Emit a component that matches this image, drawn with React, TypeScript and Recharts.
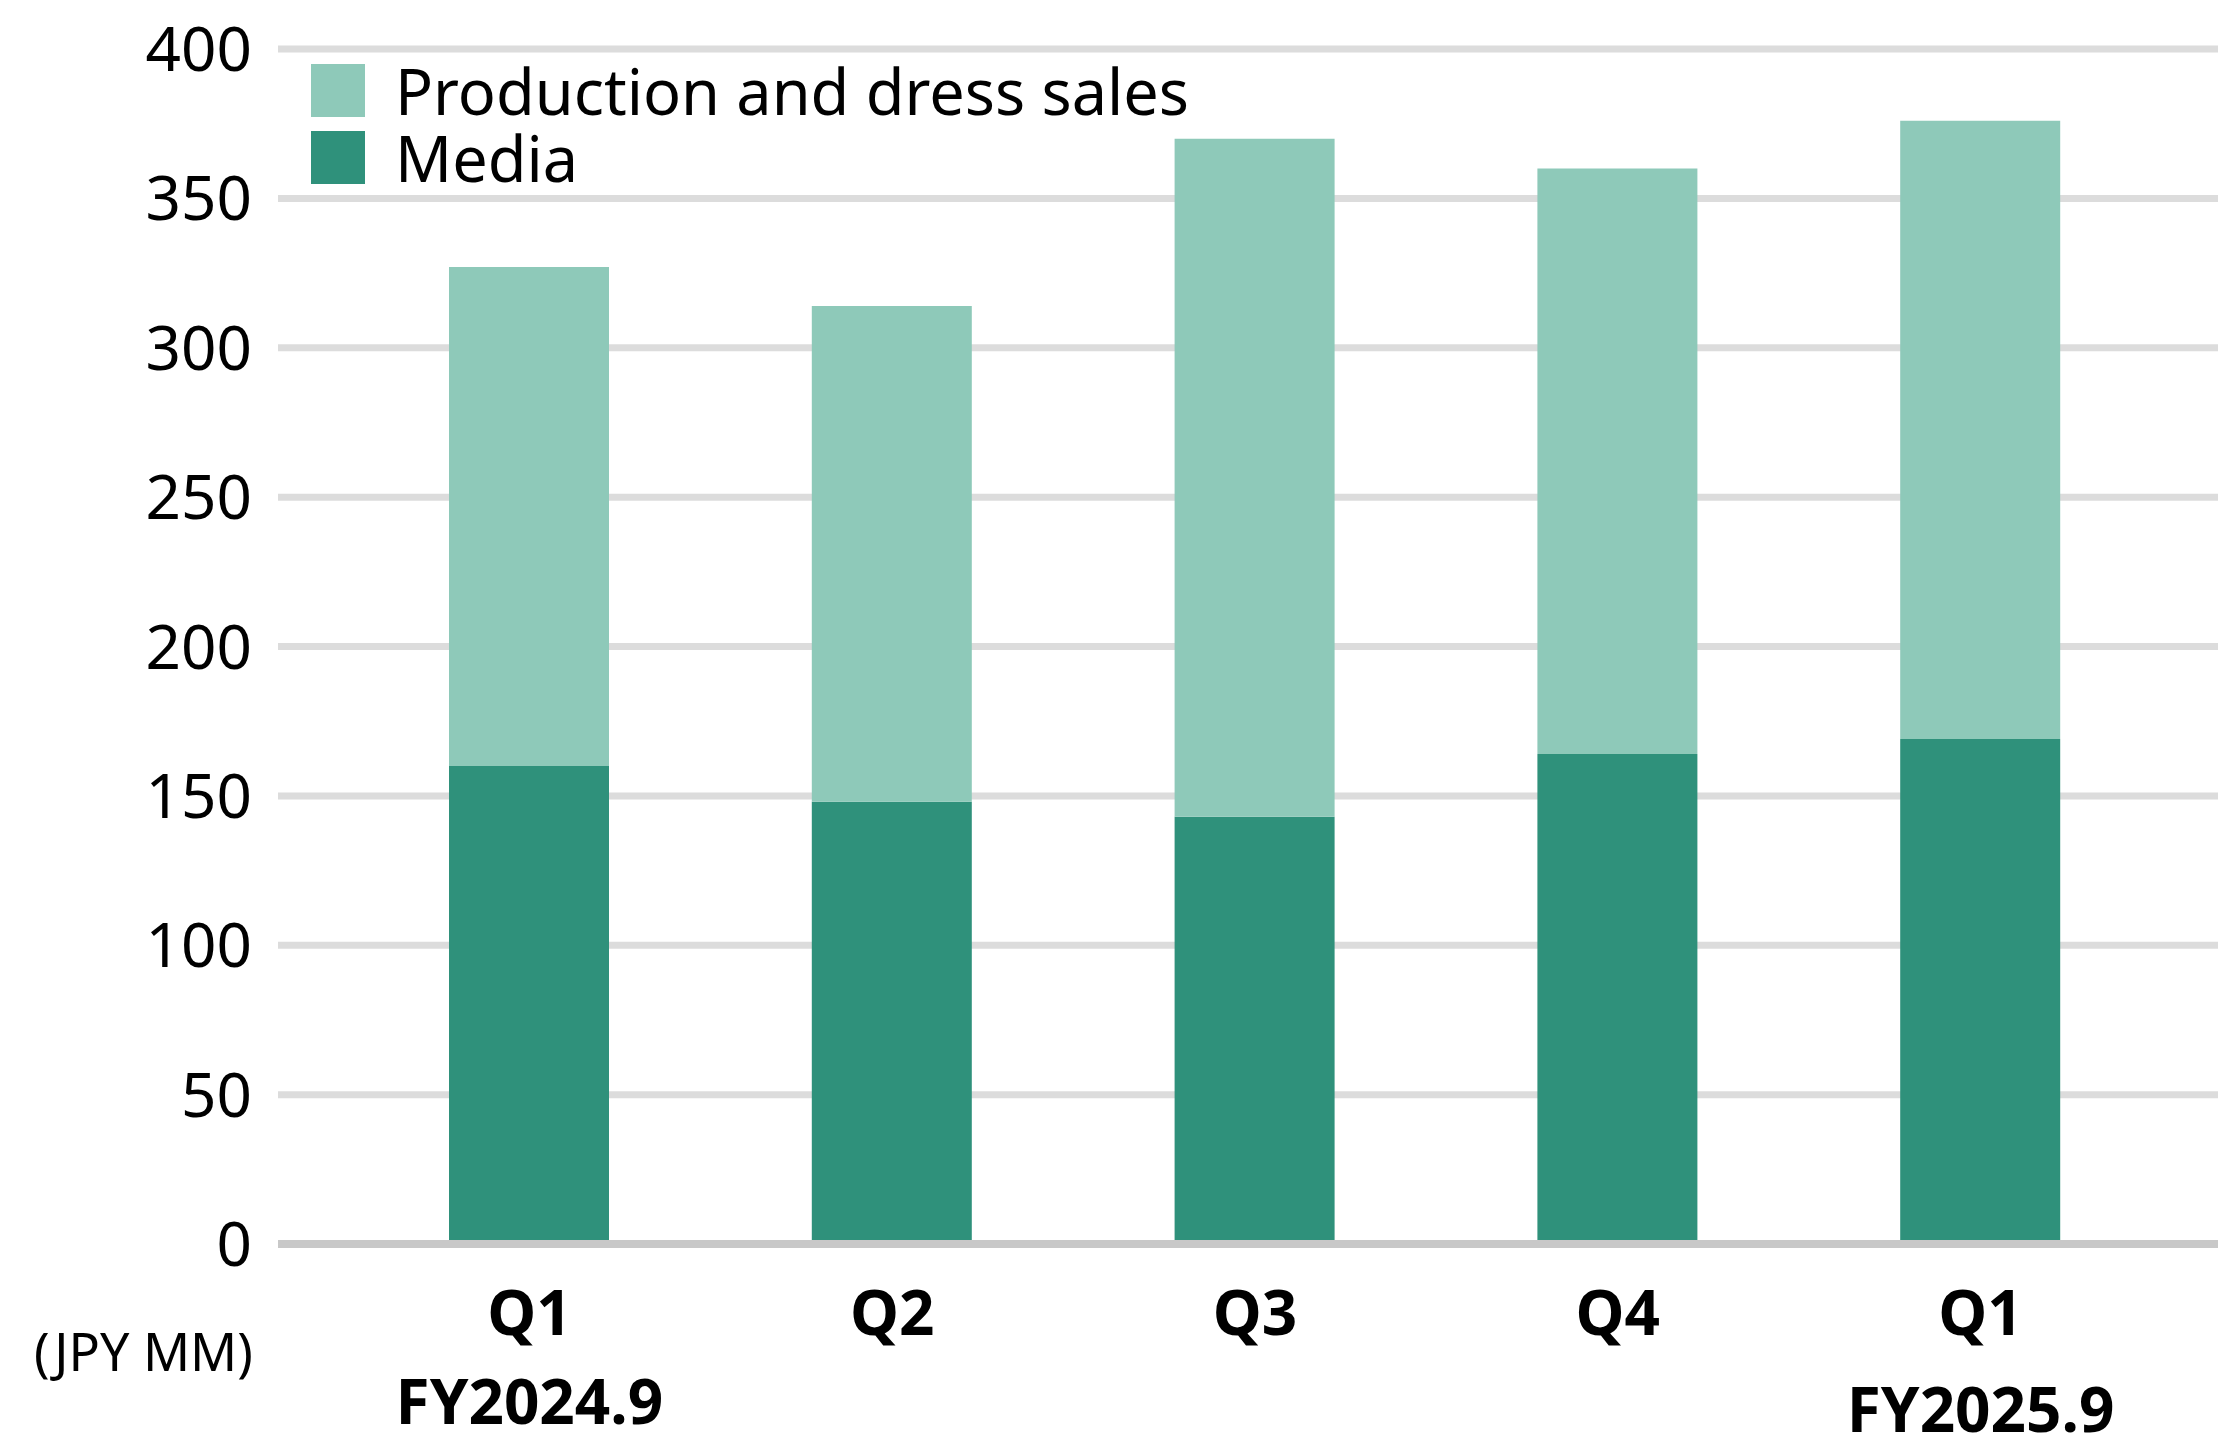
import { Bar, BarChart, CartesianGrid, Legend, XAxis, YAxis } from 'recharts'

const quarters = ['Q1', 'Q2', 'Q3', 'Q4', 'Q1']
const fiscalYears = ['FY2024.9', '', '', '', 'FY2025.9']
const media = [160, 148, 143, 164, 169]
const production = [167, 166, 227, 196, 207]
const yTicks = [0, 50, 100, 150, 200, 250, 300, 350, 400]

const LIGHT = '#8ec9b9'
const DARK = '#2f917b'
const FONT = '"Noto Sans", "Open Sans", sans-serif'

const data = quarters.map((q, i) => ({
  key: i,
  quarter: q,
  fy: fiscalYears[i],
  media: media[i],
  production: production[i],
}))

function QuarterTick(props: any) {
  const { x, y, payload, index } = props
  const row = data[payload.value] ?? data[index]
  const fyDy = index === 0 ? 172 : 180
  return (
    <g>
      <text x={x} y={y} dy={83} textAnchor="middle" fontFamily={FONT} fontWeight={700} fontSize={62} fill="#000">
        {row.quarter}
      </text>
      {row.fy ? (
        <text x={x} y={y} dy={fyDy} textAnchor="middle" fontFamily={FONT} fontWeight={700} fontSize={62} fill="#000">
          {row.fy}
        </text>
      ) : null}
    </g>
  )
}

function LegendBox() {
  const items = [
    { name: 'Production and dress sales', color: LIGHT },
    { name: 'Media', color: DARK },
  ]
  return (
    <div style={{ fontFamily: FONT }}>
      {items.map((it) => (
        <div key={it.name} style={{ display: 'flex', alignItems: 'center', height: 67 }}>
          <div style={{ width: 54, height: 53, background: it.color, marginRight: 30 }} />
          <div style={{ fontSize: 63, lineHeight: '53px', color: '#000', whiteSpace: 'nowrap' }}>{it.name}</div>
        </div>
      ))}
    </div>
  )
}

export default function App() {
  return (
    <div style={{ position: 'absolute', left: 0, top: 0, width: 2218, height: 1443, background: '#fff' }}>
      <BarChart width={2218} height={1443} data={data} margin={{ top: 49, right: 0, left: 0, bottom: 0 }}>
        <CartesianGrid vertical={false} stroke="#dcdcdc" strokeWidth={7} />
        <XAxis
          dataKey="key"
          tick={<QuarterTick />}
          tickLine={false}
          axisLine={{ stroke: '#c8c8c8', strokeWidth: 8 }}
          interval={0}
          height={199}
          padding={{ left: 70, right: 56 }}
        />
        <YAxis
          domain={[0, 400]}
          ticks={yTicks}
          width={278}
          tickLine={false}
          axisLine={false}
          tickMargin={20}
          tick={{ fontSize: 62, fill: '#000', fontFamily: FONT }}
        />
        <Legend
          verticalAlign="middle"
          align="center"
          layout="vertical"
          content={<LegendBox />}
          wrapperStyle={{ left: 311, top: 57, width: 1000 }}
        />
        <Bar dataKey="media" stackId="a" fill={DARK} barSize={160} isAnimationActive={false} />
        <Bar dataKey="production" stackId="a" fill={LIGHT} barSize={160} isAnimationActive={false} />
      </BarChart>
      <div
        style={{
          position: 'absolute',
          left: 34,
          top: 1318,
          fontFamily: FONT,
          fontSize: 52,
          lineHeight: '66px',
          color: '#000',
          whiteSpace: 'nowrap',
        }}
      >
        (JPY MM)
      </div>
    </div>
  )
}
